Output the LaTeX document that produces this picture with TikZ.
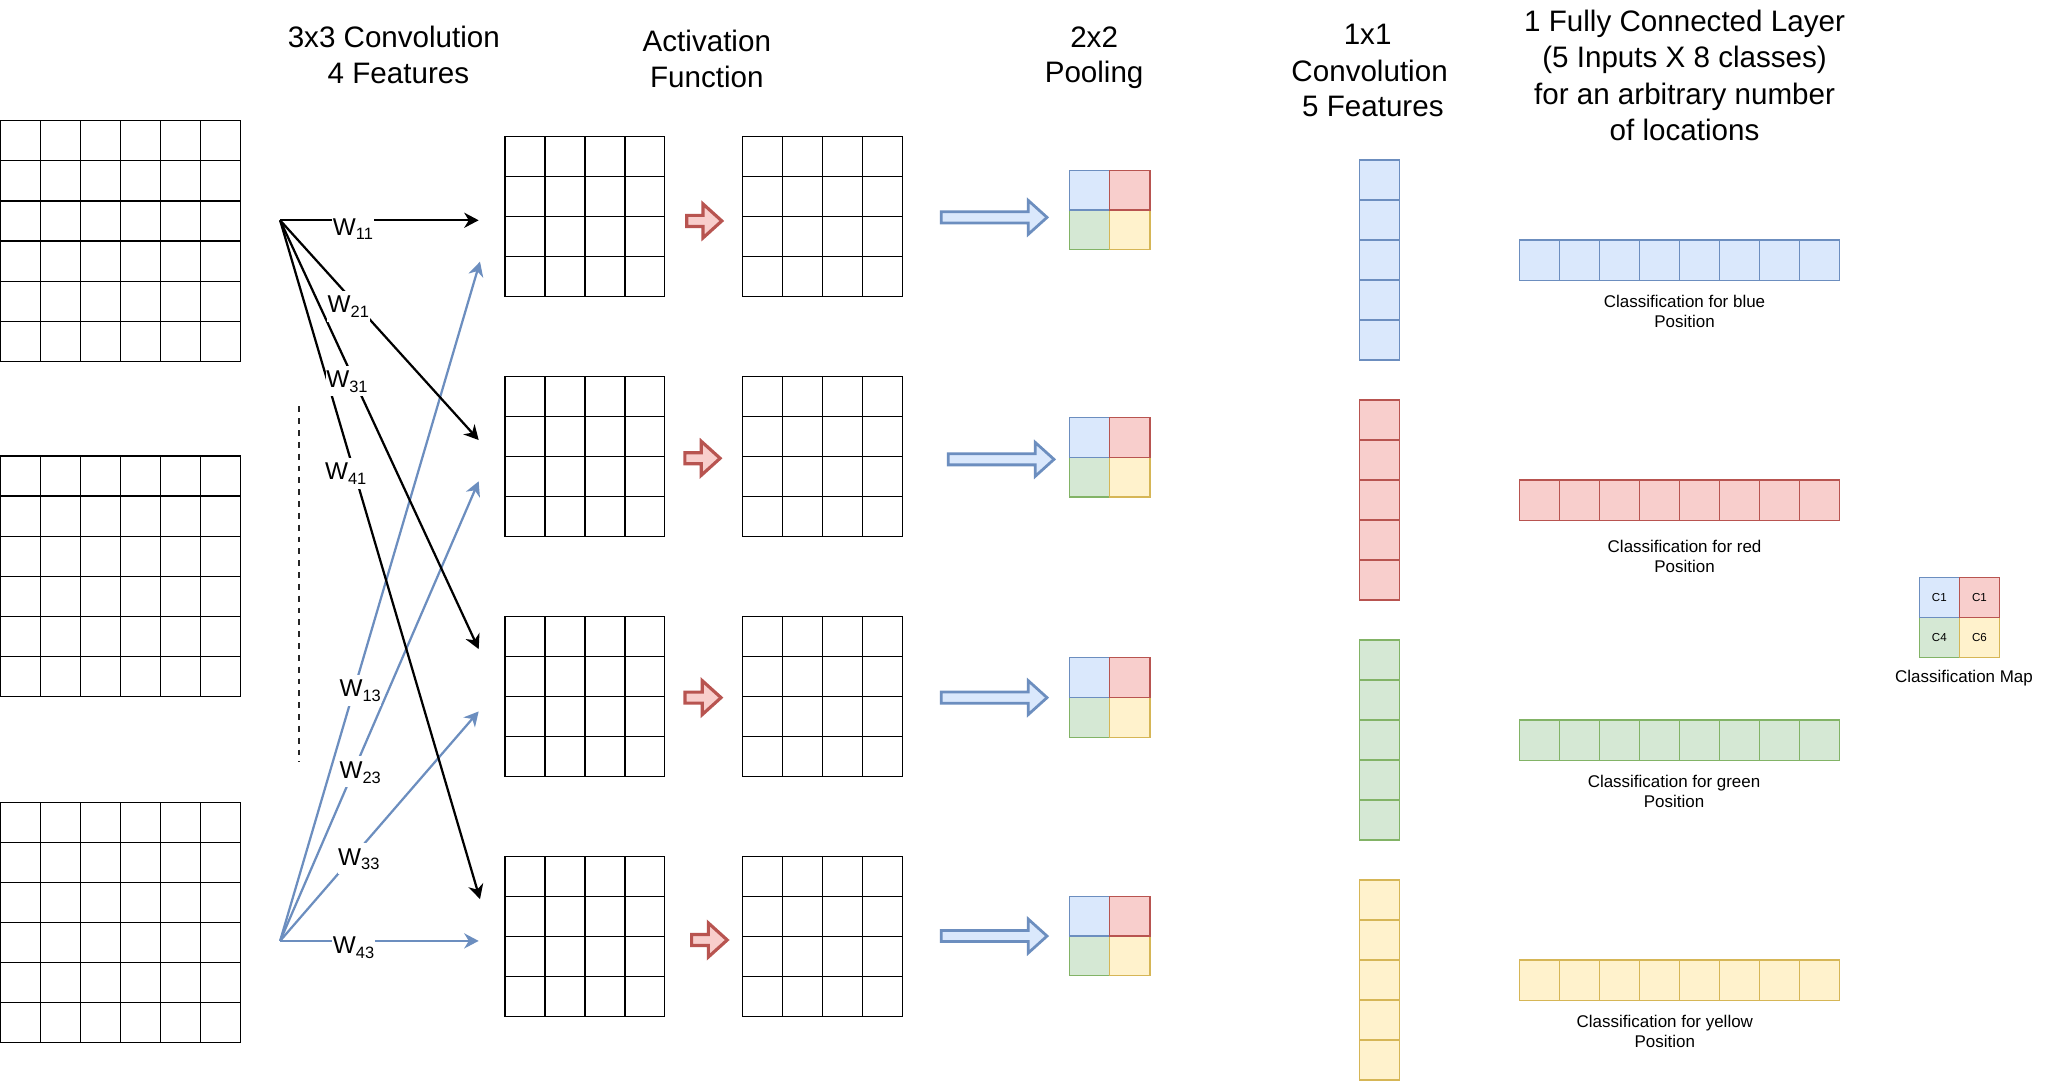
\documentclass[tikz,border=0pt]{standalone}
\usepackage{fontspec}
\setmainfont{Liberation Sans}
\usetikzlibrary{arrows.meta}
\definecolor{bfill}{HTML}{DAE8FC}\definecolor{bline}{HTML}{6C8EBF}
\definecolor{rfill}{HTML}{F8CECC}\definecolor{rline}{HTML}{B85450}
\definecolor{gfill}{HTML}{D5E8D4}\definecolor{gline}{HTML}{82B366}
\definecolor{yfill}{HTML}{FFF2CC}\definecolor{yline}{HTML}{D6B656}
\tikzset{
  gridline/.style={draw=black, line width=0.9pt},
  cB/.style={draw=bline, fill=bfill, line width=0.9pt},
  cR/.style={draw=rline, fill=rfill, line width=0.9pt},
  cG/.style={draw=gline, fill=gfill, line width=0.9pt},
  cY/.style={draw=yline, fill=yfill, line width=0.9pt},
  redarr/.style={draw=rline, fill=rfill, line width=2.4pt, line join=miter},
  bluearr/.style={draw=bline, fill=bfill, line width=2.1pt, line join=miter},
  title/.style={font=\fontsize{22.5}{27}\selectfont, anchor=base, inner sep=0pt},
  small/.style={font=\fontsize{12.9}{15}\selectfont, anchor=base, inner sep=0pt},
  wlab/.style={font=\fontsize{18.5}{22}\selectfont, fill=white, inner sep=0.5pt,
               text height=16.3pt, text depth=6pt, anchor=base west},
  blackconn/.style={draw=black, line width=1.7pt, -{Stealth[length=11pt,width=11.5pt,inset=3.5pt]}},
  blueconn/.style={draw=bline, line width=1.7pt, -{Stealth[length=11pt,width=11.5pt,inset=3.5pt]}},
  mapcell/.style={minimum width=30.5pt, minimum height=30.3pt, anchor=north west,
                  inner sep=0pt, font=\fontsize{8.8}{10}\selectfont},
}
\newcommand\mkgrid[4]{% x y n cell
  \pgfmathtruncatemacro\gm{#3-1}%
  \draw[gridline] (#1,#2) rectangle ++({#3*#4},{#3*#4});
  \foreach \i in {1,...,\gm}{
    \draw[gridline] ({#1+\i*#4},#2) -- ++(0,{#3*#4});
    \draw[gridline] (#1,{#2+\i*#4}) -- ++({#3*#4},0);
  }}
\newcommand\colcells[3]{% x y style
  \foreach \i in {0,...,4}{\draw[#3] (#1,{#2+\i*30.4}) rectangle ++(30.5,30.4);}}
\newcommand\rowcells[3]{% x y style
  \foreach \i in {0,...,7}{\draw[#3] ({#1+\i*30.44},#2) rectangle ++(30.44,30.5);}}
\newcommand\poolbox[2]{% x y
  \draw[cG] (#1,{#2+30.3}) rectangle ++(30.5,30.3);
  \draw[cY] ({#1+30.5},{#2+30.3}) rectangle ++(30.5,30.3);
  \draw[cB] (#1,#2) rectangle ++(30.5,30.3);
  \draw[cR] ({#1+30.5},#2) rectangle ++(30.5,30.3);}
\newcommand\blockarr[4]{% x0 x1 yc style
  \draw[#4] (#1,{#3-4.2}) -- ({#2-14.3},{#3-4.2}) -- ({#2-14.3},{#3-12.9}) -- (#2,#3)
    -- ({#2-14.3},{#3+12.9}) -- ({#2-14.3},{#3+4.2}) -- (#1,{#3+4.2}) -- cycle;}
\newcommand\wsub[1]{\raisebox{-3.5pt}{\fontsize{12.5}{12.5}\selectfont #1}}
\begin{document}
\begin{tikzpicture}[x=1pt,y=-1pt]
\fill[white] (0,0) rectangle (1566.5,822);
\useasboundingbox (0,0) rectangle (1566.5,822);

% titles
\node[title] (t1a) at (299.5,36) {3x3 Convolution};
\node[title] (t1b) at (303,63.3) {4 Features};
\node[title] (t2a) at (537.5,39.3) {Activation};
\node[title] (t2b) at (537.5,66.4) {Function};
\node[title] (t3a) at (832,36) {2x2};
\node[title] (t3b) at (832,63) {Pooling};
\node[title] (t4a) at (1040,34.2) {1x1};
\node[title] (t4b) at (1041.5,62) {Convolution};
\node[title] (t4c) at (1044,88.7) {5 Features};
\node[title] (t5a) at (1281,24.3) {1 Fully Connected Layer};
\node[title] (t5b) at (1281,51.7) {(5 Inputs X 8 classes)};
\node[title] (t5c) at (1281,79.1) {for an arbitrary number};
\node[title] (t5d) at (1281,106.5) {of locations};

% input grids
\mkgrid{0}{91.8}{6}{30.5}
\mkgrid{0}{346.7}{6}{30.5}
\mkgrid{0}{610}{6}{30.5}

% dashed separator
\coordinate (dtop) at (227.6,309);
\coordinate (dbot) at (227.6,579.3);
\draw[line width=1.5pt, black!85, dash pattern=on 4.5pt off 4.5pt] (dtop) -- (dbot);

% conv grids and activation grids
\foreach \y in {104,286.6,469,651.6}{
  \mkgrid{384}{\y}{4}{30.4}
  \mkgrid{564.5}{\y}{4}{30.4}
}

% activation arrows
\blockarr{522.2}{548.9}{168}{redarr}
\blockarr{520.8}{547.6}{348.5}{redarr}
\blockarr{520.9}{548.3}{530.5}{redarr}
\blockarr{525.9}{553.0}{714.8}{redarr}

% pooling arrows
\blockarr{715.8}{796.2}{165.3}{bluearr}
\blockarr{721}{801.5}{349.3}{bluearr}
\blockarr{715.7}{796.2}{530.5}{bluearr}
\blockarr{715.7}{796.2}{711.8}{bluearr}

% pooling 2x2
\poolbox{813.5}{129.4}
\poolbox{813.5}{317.4}
\poolbox{813.5}{500}
\poolbox{813.5}{681.5}

% 1x1 conv columns
\colcells{1034}{121.7}{cB}
\colcells{1034}{304.2}{cR}
\colcells{1034}{486.7}{cG}
\colcells{1034}{669.2}{cY}

% fully connected rows
\rowcells{1155.5}{182.5}{cB}
\rowcells{1155.5}{365}{cR}
\rowcells{1155.5}{547.5}{cG}
\rowcells{1155.5}{730}{cY}

\node[small] (lb1) at (1281,234) {Classification for blue};
\node[small] (lb2) at (1281,249.2) {Position};
\node[small] (lr1) at (1281,420.3) {Classification for red};
\node[small] (lr2) at (1281,435.6) {Position};
\node[small] (lg1) at (1273,599) {Classification for green};
\node[small] (lg2) at (1273,614.2) {Position};
\node[small] (ly1) at (1266,781.6) {Classification for yellow};
\node[small] (ly2) at (1266,796.8) {Position};

% classification map
\node[mapcell, cG] (m21) at (1459,469.3) {C4};
\node[mapcell, cY] (m22) at (1489.5,469.3) {C6};
\node[mapcell, cB] (m11) at (1459,439) {C1};
\node[mapcell, cR] (m12) at (1489.5,439) {C1};
\node[small] (lmap) at (1493.5,519.2) {Classification Map};

% convolution connectors
\coordinate (sB) at (213,167.5);
\coordinate (sU) at (213,715.5);
\coordinate (e11) at (364,167.5);
\coordinate (e21) at (364,334.6);
\coordinate (e31) at (364,493.6);
\coordinate (e41) at (365,683.7);
\coordinate (e13) at (365,199);
\coordinate (e23) at (364,366);
\coordinate (e33) at (364,541);
\coordinate (e43) at (364,715.5);

\draw[blueconn] (sU) -- (e13);
\draw[blueconn] (sU) -- (e23);
\draw[blueconn] (sU) -- (e33);
\draw[blueconn] (sU) -- (e43);
\draw[blackconn] (sB) -- (e11);
\draw[blackconn] (sB) -- (e21);
\draw[blackconn] (sB) -- (e31);
\draw[blackconn] (sB) -- (e41);

\node[wlab] (w11) at (252.5,179) {W\wsub{11}};
\node[wlab] (w21) at (248.5,238) {W\wsub{21}};
\node[wlab] (w31) at (247.5,295) {W\wsub{31}};
\node[wlab] (w41) at (246.5,365) {W\wsub{41}};
\node[wlab] (w13) at (257.5,530) {W\wsub{13}};
\node[wlab] (w23) at (257.5,592) {W\wsub{23}};
\node[wlab] (w33) at (256.5,658) {W\wsub{33}};
\node[wlab] (w43) at (252.5,725) {W\wsub{43}};
\end{tikzpicture}
\end{document}
